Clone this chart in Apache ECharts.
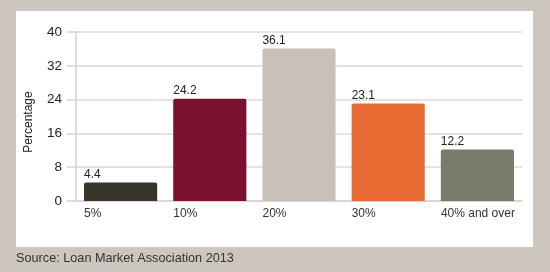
<!DOCTYPE html>
<html>
<head>
<meta charset="utf-8">
<script src="https://cdn.jsdelivr.net/npm/echarts@6/dist/echarts.min.js"></script>
<style>
html,body{margin:0;padding:0;background:#cdc6bf;}
#c{width:550px;height:272px;}
</style>
</head>
<body>
<div id="c"></div>
<script>
var categories = ['5%', '10%', '20%', '30%', '40% and over'];
var values = [4.4, 24.2, 36.1, 23.1, 12.2];
var colors = ['#38352a', '#7b1131', '#c8c1b7', '#e76a33', '#7a7a6b'];
var yTicks = [0, 8, 16, 24, 32, 40];
var font = '"Liberation Sans", Arial, sans-serif';

var chart = echarts.init(document.getElementById('c'), null, {renderer: 'canvas'});
chart.setOption({
  backgroundColor: '#cdc6bf',
  animation: false,
  graphic: [
    {type: 'rect', z: -10, shape: {x: 16, y: 11, width: 517, height: 236}, style: {fill: '#ffffff'}},
    {type: 'text', x: 29, y: 122, rotation: Math.PI / 2,
      style: {text: 'Percentage', fontSize: 12, fontFamily: font, fill: '#222', align: 'center', verticalAlign: 'middle'}},
    {type: 'text', x: 16, y: 258,
      style: {text: 'Source: Loan Market Association 2013', fontSize: 12.7, fontFamily: font, fill: '#333', align: 'left', verticalAlign: 'middle'}}
  ],
  grid: {left: 76, right: 28, top: 32, bottom: 71},
  xAxis: {
    type: 'category',
    data: categories,
    axisLine: {show: true, lineStyle: {color: '#d6d2cd', width: 1.5}},
    axisTick: {show: false},
    axisLabel: {
      interval: 0,
      hideOverlap: false,
      margin: 7,
      fontSize: 12,
      fontFamily: font,
      color: '#333',
      formatter: function (v) { return '{a|' + v + '}'; },
      rich: {a: {width: 73, align: 'left', fontSize: 12, fontFamily: font, color: '#333'}}
    }
  },
  yAxis: {
    type: 'value',
    min: yTicks[0],
    max: yTicks[yTicks.length - 1],
    interval: 8,
    axisLine: {show: true, lineStyle: {color: '#d6d2cd', width: 1.5}},
    axisTick: {show: true, length: 9, lineStyle: {color: '#d6d2cd', width: 1.5}},
    splitLine: {show: true, lineStyle: {color: '#dcd8d4', width: 1.5}},
    axisLabel: {margin: 14, fontSize: 13.5, fontFamily: font, color: '#222'}
  },
  series: [{
    type: 'bar',
    barCategoryGap: '18%',
    data: values.map(function (v, i) {
      return {value: v, itemStyle: {color: colors[i]}};
    }),
    itemStyle: {borderRadius: [2, 2, 0, 0]},
    label: {
      show: true,
      position: [0, -14],
      fontSize: 12,
      fontFamily: font,
      color: '#222'
    }
  }]
});
</script>
</body>
</html>
